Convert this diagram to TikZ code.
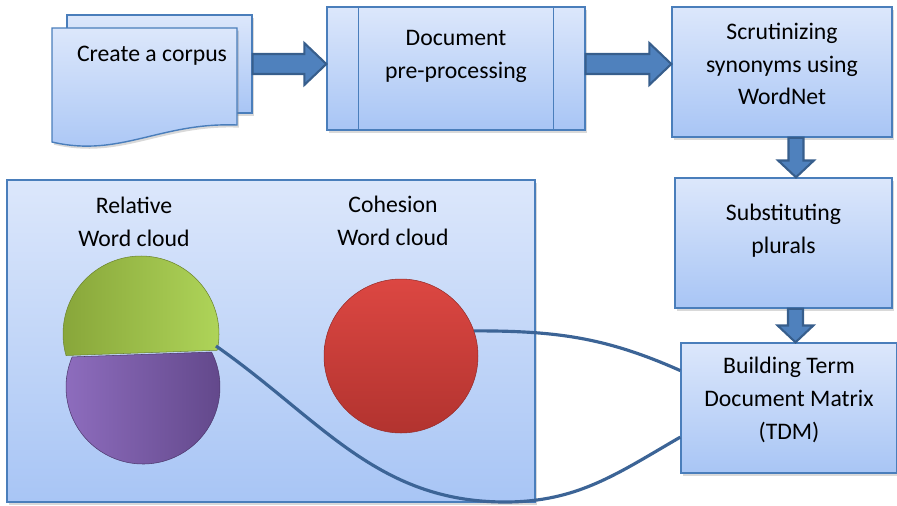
\documentclass[tikz,border=0pt]{standalone}
\usepackage{fontspec}
\setmainfont{Carlito}
\usepackage{xcolor}
\usepackage{tikz}
\usetikzlibrary{calc,shadows}

\definecolor{boxtop}{HTML}{DCE7FB}
\definecolor{boxbot}{HTML}{A8C5F5}
\definecolor{boxline}{HTML}{4A7EBB}
\definecolor{arrfill}{HTML}{4F81BD}
\definecolor{arrline}{HTML}{375E8C}
\definecolor{linkcol}{HTML}{3C6496}
\definecolor{grnl}{HTML}{88A63A}
\definecolor{grnr}{HTML}{B0D65A}
\definecolor{purl}{HTML}{8E6DBE}
\definecolor{purr}{HTML}{604688}
\definecolor{redt}{HTML}{DC4742}
\definecolor{redb}{HTML}{B2332F}

\newcommand{\harrow}[2]{\path[barrow] let \p1=#1, \p2=#2 in
  (\x1,\y1+5.7pt) -- (\x2-12.5pt,\y1+5.7pt) -- (\x2-12.5pt,\y1+11.9pt) -- (\x2,\y1)
  -- (\x2-12.5pt,\y1-11.9pt) -- (\x2-12.5pt,\y1-5.7pt) -- (\x1,\y1-5.7pt) -- cycle;}
\newcommand{\varrow}[2]{\path[barrow] let \p1=#1, \p2=#2 in
  (\x1-4.25pt,\y1) -- (\x1-4.25pt,\y2+9.6pt) -- (\x1-10.2pt,\y2+9.6pt) -- (\x1,\y2)
  -- (\x1+10.2pt,\y2+9.6pt) -- (\x1+4.25pt,\y2+9.6pt) -- (\x1+4.25pt,\y1) -- cycle;}

\begin{document}
\begin{tikzpicture}[x=0.02cm,y=-0.02cm,
	box/.style={draw=boxline,line width=0.8pt,top color=boxtop,bottom color=boxbot,
		drop shadow={opacity=0.3,shadow xshift=1pt,shadow yshift=-1.5pt}},
	txt/.style={align=center,inner sep=0pt,font=\fontsize{13.5}{18.7}\selectfont},
	barrow/.style={fill=arrfill,draw=arrline,line width=1.2pt,line join=miter},
	link/.style={draw=linkcol,line width=1.8pt}]
				\useasboundingbox (0,0) rectangle (897,505);
				% corpus
				\node[box,minimum width=3.7cm,minimum height=1.96cm] (back) at (159.5,64) {};
				\path[box] (52,28) -- (237,28) -- (237,125) .. controls (160,122) and (120,158) .. (52,142) -- cycle;
				\node[txt] (corpus) at (152,56) {Create a corpus};
				% steps
				\node[box,minimum width=5.16cm,minimum height=2.46cm] (prep) at (456,68.5) {};
				\draw[draw=boxline,line width=0.8pt] ([xshift=0.64cm]prep.north west) -- ([xshift=0.64cm]prep.south west)
					([xshift=-0.64cm]prep.north east) -- ([xshift=-0.64cm]prep.south east);
				\node[txt] (prep-t) at (456,56) {Document\\pre-processing};
				\node[box,minimum width=4.4cm,minimum height=2.6cm] (syn) at (782,72) {};
				\node[txt] (syn-t) at (782,64) {Scrutinizing\\synonyms using\\WordNet};
				\node[box,minimum width=4.34cm,minimum height=2.6cm] (sub) at (783.5,243) {};
				\node[txt] (sub-t) at (783.5,230.5) {Substituting\\plurals};
				\node[box,minimum width=4.32cm,minimum height=2.6cm] (tdm) at (789,408) {};
				\node[txt] (tdm-t) at (789,400) {Building Term\\Document Matrix\\(TDM)};
				\harrow{(back.east)}{(prep.west)}
				\harrow{(prep.east |- back.east)}{(syn.west)}
				\varrow{([xshift=0.28cm]syn.south)}{(sub.north)}
				\varrow{([xshift=0.24cm]sub.south)}{(tdm.north)}
				% word clouds
				\node[box,minimum width=10.56cm,minimum height=6.44cm] (clouds) at (271,341) {};
				\node[txt] (rel-t) at (134,221.5) {Relative\\Word cloud};
				\node[txt] (coh-t) at (393,220.5) {Cohesion\\Word cloud};
				\path[draw=grnl!80!black,line width=0.3pt,left color=grnl,right color=grnr]
					(141,334) ++(-12:1.56cm) arc[start angle=-12,end angle=196,radius=1.56cm] -- cycle;
				\path[draw=purr!80!black,line width=0.3pt,left color=purl,right color=purr]
					(143,387) ++(27:1.54cm) arc[start angle=27,end angle=-203,radius=1.54cm] -- cycle;
				\node[circle,minimum size=3.08cm,inner sep=0pt,draw=redb!85!black,line width=0.3pt,
					top color=redt,bottom color=redb] (coh) at (401,356) {};
				\coordinate (rel) at (216,346);
				\coordinate (low) at (505,502);
				\draw[link] (coh.19) to[out=0,in=156] (tdm.161);
				\draw[link] (rel) to[out=-35,in=180] (low) to[out=0,in=-150] (tdm.195);
			\end{tikzpicture}
\end{document}
